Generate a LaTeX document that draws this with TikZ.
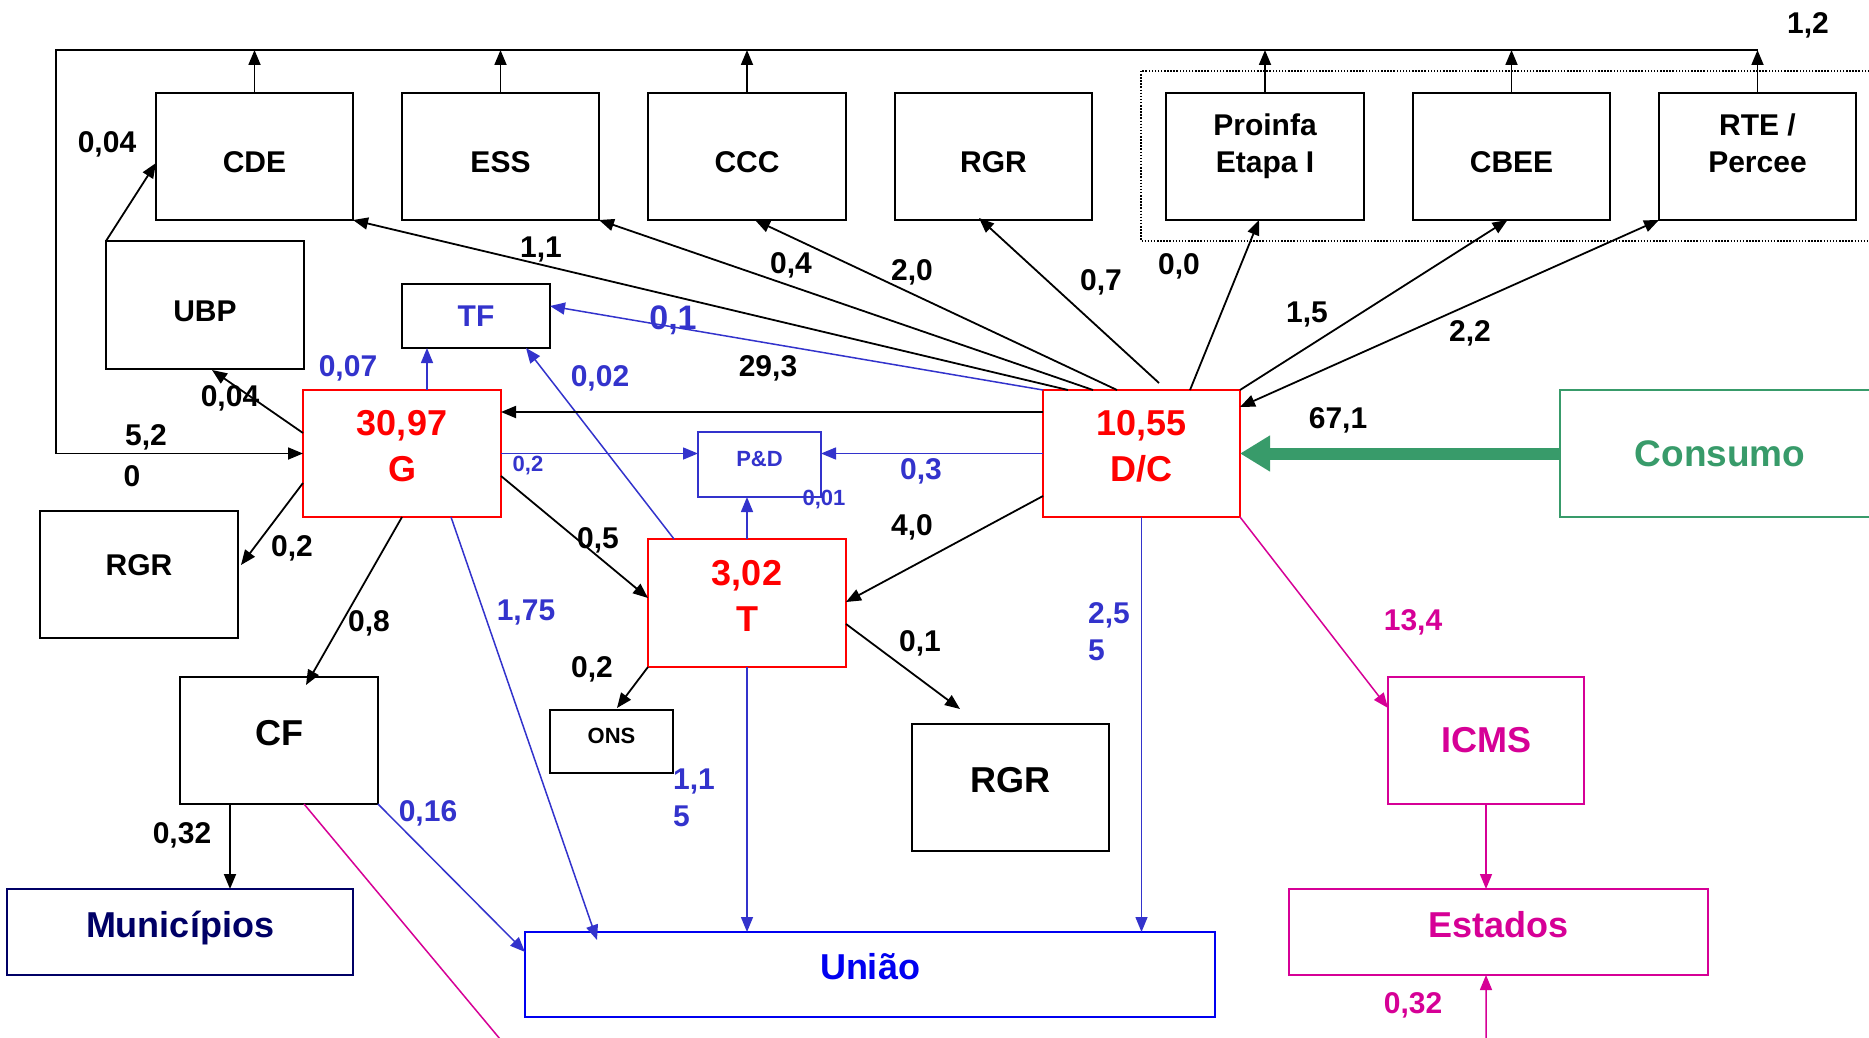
\documentclass[tikz,border=0pt]{standalone}
\usepackage{fontspec}
\setmainfont{Liberation Sans}
\usetikzlibrary{arrows.meta,calc}
\definecolor{bluec}{RGB}{51,51,204}
\definecolor{myred}{RGB}{255,0,0}
\definecolor{mypink}{RGB}{214,0,150}
\definecolor{mygreen}{RGB}{56,155,106}
\definecolor{mynavy}{RGB}{0,0,102}
\definecolor{myblue}{RGB}{0,0,240}
\newcommand\fsz[2]{\fontsize{#1}{#2}\selectfont\bfseries}
\begin{document}
\begin{tikzpicture}[x=1pt,y=-1pt,
  box/.style={draw, line width=1.8pt, inner sep=0pt, outer sep=0pt, align=center, font=\fsz{30}{37}},
  txtdown/.style={text height=32.5pt, text depth=0pt},
  txtup/.style={text height=25.8pt, text depth=15pt},
  txtupsmall/.style={text height=15.8pt, text depth=12pt},
  redbox/.style={box, draw=myred, text=myred, font=\fsz{36}{46}},
  redtxt/.style={inner sep=0pt, font=\fsz{36}{46}, text=myred, align=center, yshift=7pt},
  lbl/.style={inner sep=0pt, font=\fsz{30}{37}},
  blbl/.style={lbl, text=bluec},
  slbl/.style={inner sep=0pt, font=\fsz{22}{26}, text=bluec},
  plbl/.style={lbl, text=mypink},
  ar/.style={-{Triangle[length=15pt,width=12pt]}},
  kl/.style={line width=1.8pt, draw=black},
  bll/.style={line width=1.5pt, draw=bluec},
  pkl/.style={line width=1.5pt, draw=mypink},
]
\useasboundingbox (0,0) rectangle (1869,1038);
\fill[white] (0,0) rectangle (1869,1038);
\clip (0,0) rectangle (1869,1038);

% dotted group
\draw[line width=1.3pt, dash pattern=on 1.5pt off 1.6pt] (1141,71) rectangle (1890,241);

% top row
\node[box, txtdown, minimum width=197pt, minimum height=127pt] (cde) at (254.5,156.5) {CDE};
\node[box, txtdown, minimum width=197pt, minimum height=127pt] (ess) at (500.5,156.5) {ESS};
\node[box, txtdown, minimum width=198pt, minimum height=127pt] (ccc) at (747,156.5) {CCC};
\node[box, txtdown, minimum width=197pt, minimum height=127pt] (rgrtop) at (993.5,156.5) {RGR};
\node[box, minimum width=198pt, minimum height=127pt,
  label={[lbl, align=center, yshift=10pt]center:{Proinfa\\Etapa I}}] (proinfa) at (1265,156.5) {};
\node[box, txtdown, minimum width=197pt, minimum height=127pt] (cbee) at (1511.5,156.5) {CBEE};
\node[box, minimum width=197pt, minimum height=127pt,
  label={[lbl, align=center, yshift=13.5pt]center:{RTE /\\Percee}}] (rte) at (1757.5,156.5) {};

% middle
\node[box, txtdown, minimum width=198pt, minimum height=128pt] (ubp) at (205,305) {UBP};
\node[box, minimum width=148pt, minimum height=64pt, text=bluec] (tf) at (476,316) {TF};
\node[redbox, minimum width=198pt, minimum height=127pt,
  label={[redtxt]center:{30,97\\G}}] (g) at (402,453.5) {};
\node[box, text height=21.5pt, text depth=20pt, minimum width=198pt, minimum height=127pt] (rgrleft) at (139,574.5) {RGR};
\node[box, txtupsmall, draw=bluec, text=bluec, minimum width=123pt, minimum height=65pt, font=\fsz{22}{26}] (pd) at (759.5,464.5) {P\&D};
\node[redbox, minimum width=198pt, minimum height=128pt,
  label={[redtxt]center:{3,02\\T}}] (t) at (747,603) {};
\node[redbox, minimum width=197pt, minimum height=127pt,
  label={[redtxt]center:{10,55\\D/C}}] (dc) at (1141.5,453.5) {};
\node[box, draw=mygreen, text=mygreen, minimum width=320pt, minimum height=127pt, font=\fsz{37}{44}] (consumo) at (1720,453.5) {Consumo};

% bottom
\node[box, txtup, minimum width=198pt, minimum height=127pt, font=\fsz{36}{44}] (cf) at (279,740.5) {CF};
\node[box, txtupsmall, minimum width=123pt, minimum height=63pt, font=\fsz{22}{26}] (ons) at (611.5,741.5) {ONS};
\node[box, txtup, minimum width=197pt, minimum height=127pt, font=\fsz{36}{44}] (rgrbot) at (1010.5,787.5) {RGR};
\node[box, draw=mypink, text=mypink, minimum width=196pt, minimum height=127pt, font=\fsz{36}{44}] (icms) at (1486,740.5) {ICMS};
\node[box, txtup, draw=mynavy, text=mynavy, minimum width=346pt, minimum height=86pt, font=\fsz{36}{44}] (mun) at (180,932) {Municípios};
\node[box, txtup, draw=myblue, text=myblue, minimum width=690pt, minimum height=85pt, font=\fsz{36}{44}] (uniao) at (870,974.5) {União};
\node[box, txtup, draw=mypink, text=mypink, minimum width=419pt, minimum height=86pt, font=\fsz{36}{44}] (estados) at (1498.5,932) {Estados};

% bus
\coordinate (busL) at (56,50);
\coordinate (busR) at (1758,50);
\draw[kl, ar] (busR) -- (busL) |- (g.west);
\foreach \n in {cde,ess,ccc,proinfa,cbee,rte}
  \draw[kl, ar] (\n.north) -- (\n.north |- busL);

% UBP / G / TF
\draw[kl, ar] (ubp.north west) -- ($(cde.north west)+(0,70)$);
\draw[kl, ar] ($(g.north west)+(0,43)$) -- ($(ubp.south west)+(106,1)$);
\coordinate (gtf) at ($(g.north west)+(124,0)$);
\draw[bll, ar] (gtf) -- (gtf |- tf.south);
\draw[bll, ar] ($(t.north west)+(26,0)$) -- ($(tf.south east)+(-24,0)$);
\draw[bll, ar] (dc.north west) -- ($(tf.north east)+(0,22)$);

% DC fan to top
\draw[kl, ar] ($(dc.north west)+(25,0)$) -- (cde.south east);
\draw[kl, ar] ($(dc.north west)+(50,0)$) -- (ess.south east);
\draw[kl, ar] ($(dc.north west)+(74,0)$) -- ($(ccc.south)+(8,0)$);
\draw[kl, ar] ($(dc.north west)+(116,-7)$) -- ($(rgrtop.south west)+(84,-2)$);
\draw[kl, ar] ($(dc.north west)+(147,0)$) -- ($(proinfa.south)+(-6,0)$);
\draw[kl, ar] (dc.north east) -- ($(cbee.south)+(-4,0)$);
\draw[kl, {Triangle[length=15pt,width=12pt]}-{Triangle[length=15pt,width=12pt]}] (rte.south west) -- ($(dc.north east)+(0,17)$);

% horizontal flows
\draw[kl, ar] ($(dc.north west)+(0,22)$) -- ($(g.north east)+(0,22)$);
\draw[bll, ar] (g.east) -- (g.east -| pd.west);
\draw[bll, ar] (dc.west) -- (dc.west -| pd.east);
\draw[bll, ar] (t.north) -- (t.north |- pd.south);
\draw[line width=12pt, draw=mygreen, -{Triangle[length=30pt,width=34pt]}] (consumo.west) -- (dc.east);

% from G
\draw[kl, ar] ($(g.north west)+(0,93)$) -- ($(rgrleft.north east)+(3,54)$);
\draw[kl, ar] (g.south) -- ($(cf.north west)+(126,8)$);
\draw[bll, ar] ($(g.south west)+(148,0)$) -- ($(uniao.north west)+(72,8)$);
\draw[kl, ar] ($(g.north east)+(0,86)$) -- ($(t.north west)+(0,59)$);

% from DC
\draw[kl, ar] ($(dc.north west)+(0,106)$) -- ($(t.north east)+(0,63)$);
\draw[bll, ar] (dc.south) -- (dc.south |- uniao.north);
\draw[pkl, ar] (dc.south east) -- ($(icms.north west)+(0,31)$);

% from T
\coordinate (rgrtip) at ($(rgrbot.north west)+(48,-15)$);
\draw[kl, ar] ($(t.north east)+(0,85)$) -- (rgrtip);
\draw[kl, ar] (t.south west) -- ($(ons.north west)+(67,-2)$);
\draw[bll, ar] (t.south) -- (t.south |- uniao.north);

% lower
\draw[pkl, ar] (icms.south) -- (icms.south |- estados.north);
\coordinate (cfm) at ($(cf.south west)+(50,0)$);
\draw[kl, ar] (cfm) -- (cfm |- mun.north);
\draw[bll, ar] (cf.south east) -- ($(uniao.north west)+(0,20)$);
\coordinate (bot1) at (500,1039);
\coordinate (bot2) at (1486,1039);
\draw[pkl, ar] ($(cf.south west)+(124,0)$) -- (bot1) -- (bot2) -- (bot2 |- estados.south);

% labels black
\node[lbl] (l1) at (107,144) {0,04};
\node[lbl] (l2) at (230,398) {0,04};
\node[lbl] (l3) at (541,250) {1,1};
\node[lbl] (l4) at (791,265) {0,4};
\node[lbl] (l5) at (912,272) {2,0};
\node[lbl] (l6) at (1101,282) {0,7};
\node[lbl] (l7) at (1179,266) {0,0};
\node[lbl] (l8) at (1307,315) {1,5};
\node[lbl] (l9) at (1470,333) {2,2};
\node[lbl] (l10) at (1808,25) {1,2};
\node[lbl] (l11) at (768,368) {29,3};
\node[lbl] (l12) at (1338,420) {67,1};
\node[lbl] (l13) at (146,437) {5,2};
\node[lbl] (l14) at (132,476) {0};
\node[lbl] (l15) at (292,548) {0,2};
\node[lbl] (l16) at (598,540) {0,5};
\node[lbl] (l17) at (912,527) {4,0};
\node[lbl] (l18) at (369,623) {0,8};
\node[lbl] (l19) at (920,643) {0,1};
\node[lbl] (l20) at (592,669) {0,2};
\node[lbl] (l21) at (182,835) {0,32};
% labels blue
\node[blbl] (b1) at (348,368) {0,07};
\node[blbl] (b2) at (600,378) {0,02};
\node[blbl] (b3) at (921,471) {0,3};
\node[blbl] (b4) at (526,612) {1,75};
\node[blbl, align=left] (b5) at (1109,631.5) {2,5\\5};
\node[blbl, align=left] (b6) at (694,798) {1,1\\5};
\node[blbl] (b7) at (428,813) {0,16};
\node[blbl, font=\fsz{34}{40}] (b8) at (673,320) {0,1};
\node[slbl] (b9) at (528,466) {0,2};
\node[slbl] (b10) at (824,500) {0,01};
% labels pink
\node[plbl] (p1) at (1413,622) {13,4};
\node[plbl] (p2) at (1413,1005) {0,32};
\end{tikzpicture}
\end{document}
